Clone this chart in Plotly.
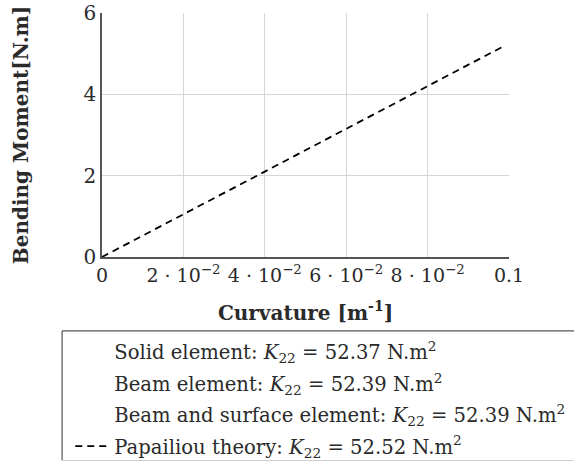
import plotly.graph_objects as go

# Curvature samples [1/m] and bending stiffness K22 [N.m^2] of each model
curvature = [0.0, 0.099]
k22_solid = 52.37
k22_beam = 52.39
k22_beam_surface = 52.39
k22_papailiou = 52.52

x_tickvals = [0, 0.02, 0.04, 0.06, 0.08, 0.1]
x_ticktext = ["0", "2 · 10<sup>−2</sup>", "4 · 10<sup>−2</sup>",
              "6 · 10<sup>−2</sup>", "8 · 10<sup>−2</sup>", "0.1"]
y_tickvals = [0, 2, 4, 6]

FONT = "DejaVu Serif"
FS = 20
LEG_FS = 19.6
TXT = "#2a2a2a"


def moment(k):
    return [k * c for c in curvature]


fig = go.Figure()

hidden = dict(color="rgba(0,0,0,0)", width=1.5)
fig.add_trace(go.Scatter(
    x=curvature, y=moment(k22_solid), mode="lines", line=hidden,
    legendgroup="solid",
    name="Solid element: <i>K</i><sub>22</sub> = 52.37 N.m<sup>2</sup>"))
fig.add_trace(go.Scatter(
    x=curvature, y=moment(k22_beam), mode="lines", line=hidden,
    legendgroup="beam",
    name="Beam element: <i>K</i><sub>22</sub> = 52.39 N.m<sup>2</sup>"))
fig.add_trace(go.Scatter(
    x=curvature, y=moment(k22_beam_surface), mode="lines", line=hidden,
    legendgroup="beam_surface",
    name="Beam and surface element: <i>K</i><sub>22</sub> = 52.39 N.m<sup>2</sup>"))
fig.add_trace(go.Scatter(
    x=curvature, y=moment(k22_papailiou), mode="lines",
    line=dict(color="black", width=1.8, dash="7px,5px"),
    legendgroup="papailiou",
    name="Papailiou theory: <i>K</i><sub>22</sub> = 52.52 N.m<sup>2</sup>"))

fig.update_layout(
    width=574, height=462,
    margin=dict(l=102, r=65, t=13, b=205, autoexpand=False),
    paper_bgcolor="white", plot_bgcolor="white",
    font=dict(family=FONT, size=FS, color=TXT),
    showlegend=True,
    legend=dict(
        x=-0.078, y=-0.309, xanchor="left", yanchor="top",
        bgcolor="rgba(0,0,0,0)", borderwidth=0,
        font=dict(family=FONT, size=LEG_FS, color=TXT),
        itemwidth=34, tracegroupgap=3,
    ),
)

fig.update_xaxes(
    range=[0, 0.1], tickvals=x_tickvals, ticktext=x_ticktext,
    tickfont=dict(family=FONT, size=19, color=TXT),
    showgrid=True, gridcolor="#d6d6d6", gridwidth=1,
    showline=True, linecolor="#555", linewidth=1.5,
    zeroline=False, ticks="", automargin=False,
    title=dict(text="<b>Curvature [m<sup>-1</sup>]</b>", standoff=21,
               font=dict(family=FONT, size=20, color=TXT)),
)
fig.update_yaxes(
    range=[0, 6], tickvals=y_tickvals,
    tickfont=dict(family=FONT, size=20, color=TXT),
    showgrid=True, gridcolor="#d6d6d6", gridwidth=1,
    showline=True, linecolor="#555", linewidth=1.5,
    zeroline=False, ticks="", automargin=False,
    title=dict(text="<b>Bending Moment[N.m]</b>", standoff=50,
               font=dict(family=FONT, size=20, color=TXT)),
)

# Legend frame: dark top and left edges, faint bottom edge
x_left, y_top, y_bottom = -0.098, -0.303, -0.834
fig.add_shape(type="line", xref="paper", yref="paper",
              x0=x_left, x1=1.3, y0=y_top, y1=y_top,
              line=dict(color="#555", width=1.2))
fig.add_shape(type="line", xref="paper", yref="paper",
              x0=x_left, x1=x_left, y0=y_top, y1=y_bottom,
              line=dict(color="#555", width=1.2))
fig.add_shape(type="line", xref="paper", yref="paper",
              x0=x_left, x1=1.3, y0=y_bottom, y1=y_bottom,
              line=dict(color="#cfcfcf", width=1.2))

fig.write_html("out.html")
